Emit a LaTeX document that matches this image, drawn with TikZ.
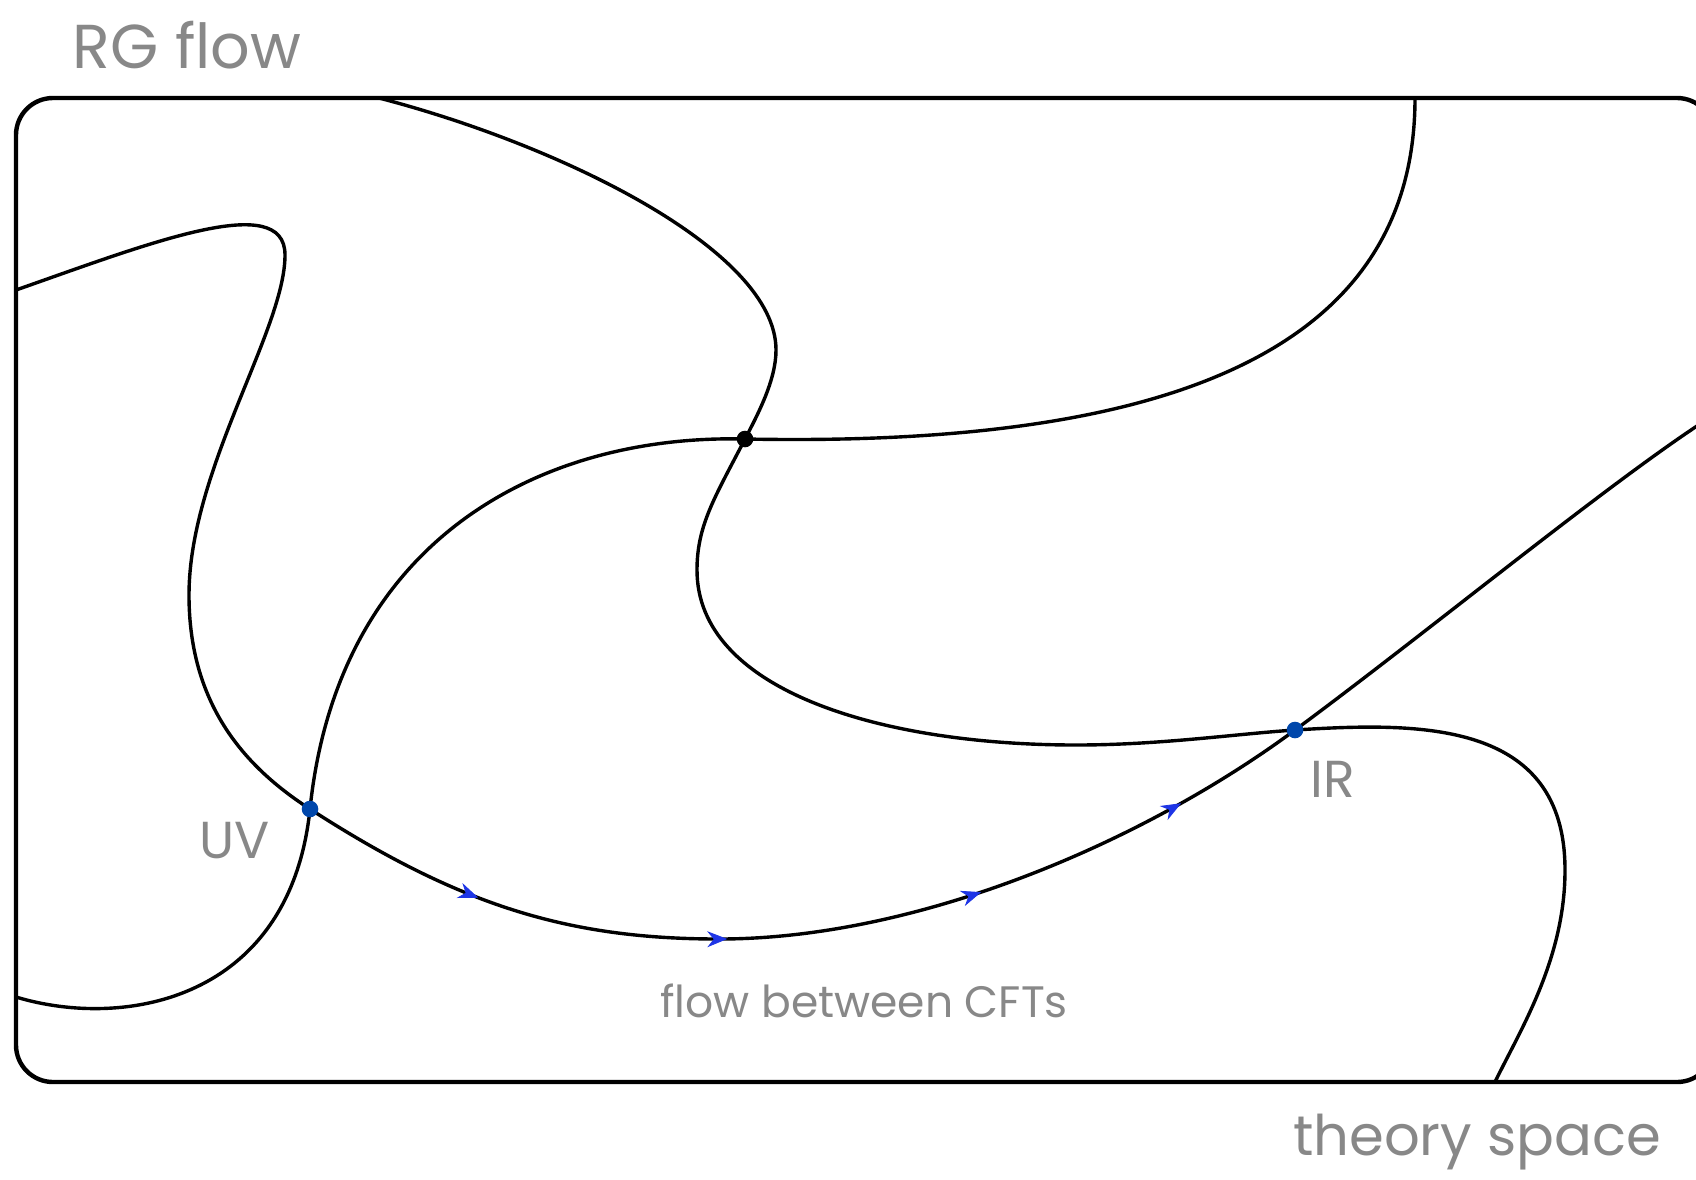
\documentclass[tikz,border=0pt]{standalone}
\usepackage{fontspec}
\setmainfont{Poppins}
\usetikzlibrary{decorations.markings,arrows.meta}
\definecolor{lbl}{HTML}{888888}
\definecolor{dotblue}{HTML}{0047AB}
\definecolor{arrblue}{HTML}{1E35E6}
\begin{document}
\begin{tikzpicture}[x=0.5pt,y=-0.5pt,
  curve/.style={line width=1.7pt, line join=round},
  frame/.style={line width=2.2pt, rounded corners=18.5pt},
  lab/.style={text=lbl, inner sep=0pt, anchor=base},
  fixdot/.style={circle, inner sep=0pt, minimum size=8.3pt},
  flowtip/.style={arrblue},
  flowarrows/.style={postaction={decorate}, decoration={markings,
    mark=at position 0.18 with {\arrow[flowtip]{Stealth[length=10pt,width=8pt]}},
    mark=at position 0.42 with {\arrow[flowtip]{Stealth[length=10pt,width=8pt]}},
    mark=at position 0.665 with {\arrow[flowtip]{Stealth[length=10pt,width=8pt]}},
    mark=at position 0.872 with {\arrow[flowtip]{Stealth[length=10pt,width=8pt]}}}}
]
\useasboundingbox (0,0) rectangle (1696,1179);
\clip (0,0) rectangle (1696,1179);
\fill[white] (0,0) rectangle (1696,1179);

\coordinate (uv) at (310,809);
\coordinate (ir) at (1295,730);
\coordinate (ctr) at (745,439);
\coordinate (low) at (719,939);

% frame
\draw[frame] (16,98) rectangle (1714,1082);

% curve A: left edge -> loop -> UV -> IR -> right edge
\draw[curve] (16,290) .. controls (150,243) and (285,190) .. (285,255)
  .. controls (285,330) and (189,470) .. (189,595)
  .. controls (189,700) and (240,764) .. (uv)
  .. controls (460,906) and (569,939) .. (low)
  .. controls (919,939) and (1145,841) .. (ir)
  .. controls (1425,634) and (1600,490) .. (1700,424);
% flow arrows along UV -> IR
\path[flowarrows] (uv) .. controls (460,906) and (569,939) .. (low)
  .. controls (919,939) and (1145,841) .. (ir);

% curve B: top -> centre -> IR -> bottom
\draw[curve] (379,98) .. controls (560,145) and (776,250) .. (776,350)
  .. controls (776,380) and (758,414) .. (ctr)
  .. controls (715,497) and (697,525) .. (697,570)
  .. controls (697,690) and (880,745) .. (1076,745)
  .. controls (1160,745) and (1235,734) .. (ir)
  .. controls (1420,722) and (1565,720) .. (1565,870)
  .. controls (1565,960) and (1519,1032) .. (1495,1082);

% curve C: bottom left -> UV -> centre -> top
\draw[curve] (16,997) .. controls (125,1030) and (290,1000) .. (uv)
  .. controls (338,540) and (540,434) .. (ctr)
  .. controls (1150,447) and (1415,360) .. (1415,98);

% fixed points
\node[fixdot, fill=dotblue] (UV) at (uv) {};
\node[fixdot, fill=dotblue] (IR) at (ir) {};
\node[fixdot, fill=black] (C) at (ctr) {};

% labels
\node[lab, font=\fontsize{31}{36}\selectfont] (t1) at (187,68) {RG flow};
\node[lab, font=\fontsize{26}{30}\selectfont] (t2) at (235,858) {UV};
\node[lab, font=\fontsize{26}{30}\selectfont] (t3) at (1333,797) {IR};
\node[lab, font=\fontsize{22}{27}\selectfont] (t4) at (864,1017) {flow between CFTs};
\node[lab, font=\fontsize{28}{33}\selectfont] (t5) at (1477,1155) {theory space};
\end{tikzpicture}
\end{document}
